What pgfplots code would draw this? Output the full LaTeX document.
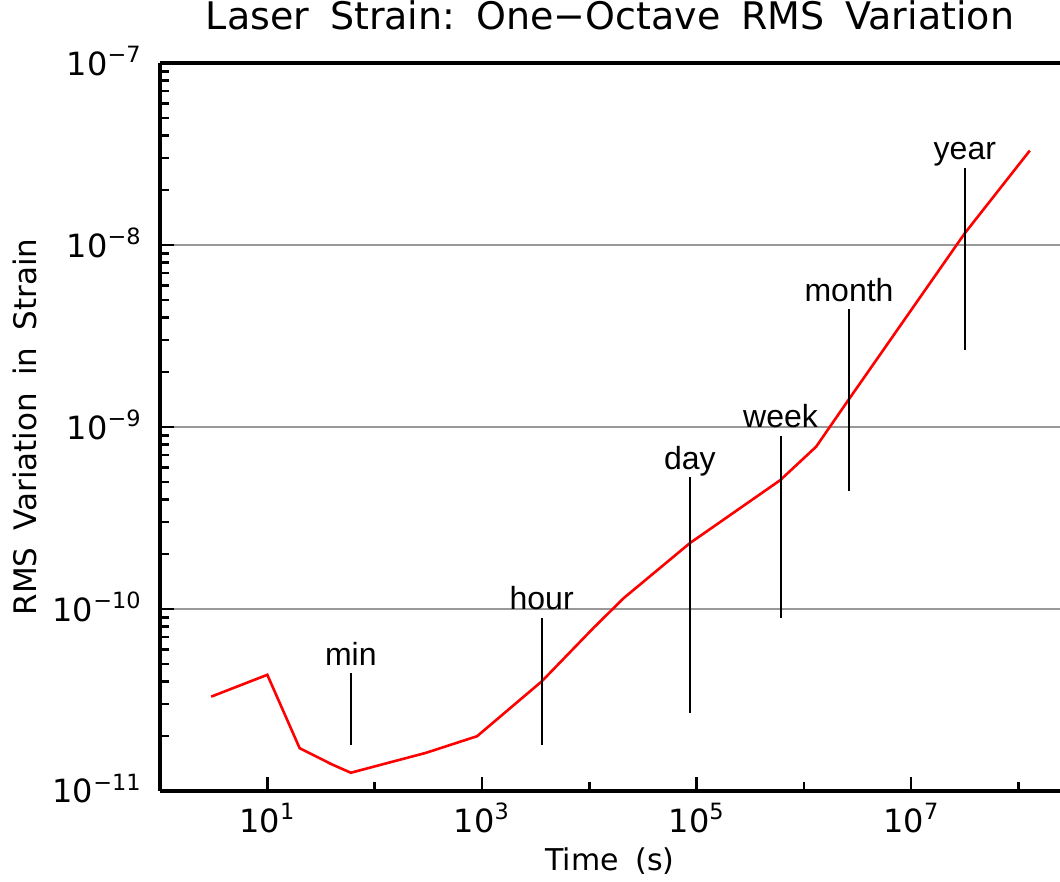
\documentclass[border=0pt]{standalone}
\usepackage{pgfplots}
\pgfplotsset{compat=1.18}
\usetikzlibrary{calc}
\usepackage{fontspec}
\setmainfont{DejaVu Sans}
\newfontfamily\lab{Liberation Sans}
\newcommand\pw[1]{10\textsuperscript{#1}}
\newcommand\wsp{\hspace{0.55em}}
\begin{document}
\begin{tikzpicture}
\begin{axis}[
  name=ax,
  scale only axis, width=450pt, height=364pt,
  xmode=log, ymode=log,
  xmin=1, xmax=2.43e8, ymin=1e-11, ymax=1e-7,
  axis x line=box, axis y line=left,
  axis line style={-, line width=2pt},
  xtick={10,1000,100000,10000000},
  xticklabels={\pw{1},\pw{3},\pw{5},\pw{7}},
  minor xtick={100,10000,1000000,100000000},
  ytick={1e-11,1e-10,1e-9,1e-8,1e-7},
  yticklabels={\pw{−11},\pw{−10},\pw{−9},\pw{−8},\pw{−7}},
  minor ytick={2e-11,3e-11,4e-11,5e-11,6e-11,7e-11,8e-11,9e-11,
               2e-10,3e-10,4e-10,5e-10,6e-10,7e-10,8e-10,9e-10,
               2e-9,3e-9,4e-9,5e-9,6e-9,7e-9,8e-9,9e-9,
               2e-8,3e-8,4e-8,5e-8,6e-8,7e-8,8e-8,9e-8},
  xtick pos=left, ytick pos=left,
  tick align=inside,
  major tick length=7pt, minor tick length=4.5pt,
  tick style={black, line width=1.2pt},
  ymajorgrids, major grid style={black!40, line width=1pt},
  xticklabel style={anchor=base, inner sep=0pt, yshift=-20.5pt, font=\fontsize{16}{19}\selectfont},
  yticklabel style={anchor=base east, inner sep=0pt, xshift=-9pt, yshift=-6pt, font=\fontsize{16}{19}\selectfont},
  title={Laser\wsp Strain:\wsp One−Octave\wsp RMS\wsp Variation},
  title style={at={(axis description cs:0.5,1)}, anchor=base, inner sep=0pt, yshift=11pt, font=\fontsize{19}{23}\selectfont},
  xlabel={Time\wsp(s)},
  xlabel style={at={(axis description cs:0.5,0)}, anchor=base, inner sep=0pt, yshift=-39.5pt, font=\fontsize{15}{18}\selectfont},
  ylabel={RMS\wsp Variation\wsp in\wsp Strain},
  ylabel style={at={(axis description cs:-0.15,0.5)}, anchor=center, inner sep=0pt, font=\fontsize{15.5}{18}\selectfont},
]
\addplot[red, line width=1.3pt] coordinates {
  (3,3.3e-11) (10,4.35e-11) (20,1.72e-11) (40,1.40e-11) (60,1.26e-11)
  (300,1.62e-11) (900,2.0e-11) (3600,4.0e-11) (11000,7.9e-11)
  (21000,1.15e-10) (86400,2.3e-10) (600000,5.1e-10) (1300000,7.8e-10)
  (2600000,1.41e-9) (31500000,1.16e-8) (127000000,3.3e-8)
};
\addplot[black, line width=1pt] coordinates {(60,1.79e-11) (60,4.45e-11)};
\addplot[black, line width=1pt] coordinates {(3600,1.79e-11) (3600,8.93e-11)};
\addplot[black, line width=1pt] coordinates {(86400,2.68e-11) (86400,5.31e-10)};
\addplot[black, line width=1pt] coordinates {(604800,8.93e-11) (604800,8.93e-10)};
\addplot[black, line width=1pt] coordinates {(2630000,4.45e-10) (2630000,4.45e-9)};
\addplot[black, line width=1pt] coordinates {(31560000,2.65e-9) (31560000,2.65e-8)};
\node[anchor=base, yshift=4pt, font=\lab\fontsize{16}{19}\selectfont] at (axis cs:60,4.45e-11) {min};
\node[anchor=base, yshift=4pt, font=\lab\fontsize{16}{19}\selectfont] at (axis cs:3600,8.93e-11) {hour};
\node[anchor=base, yshift=4pt, font=\lab\fontsize{16}{19}\selectfont] at (axis cs:86400,5.31e-10) {day};
\node[anchor=base, yshift=4pt, font=\lab\fontsize{16}{19}\selectfont] at (axis cs:604800,8.93e-10) {week};
\node[anchor=base, yshift=4pt, font=\lab\fontsize{16}{19}\selectfont] at (axis cs:2630000,4.45e-9) {month};
\node[anchor=base, yshift=4pt, font=\lab\fontsize{16}{19}\selectfont] at (axis cs:31560000,2.65e-8) {year};
\end{axis}
\pgfresetboundingbox
\useasboundingbox ($(ax.south west)+(-80pt,-45.5pt)$) rectangle ($(ax.north east)+(0,31.5pt)$);
\end{tikzpicture}
\end{document}
